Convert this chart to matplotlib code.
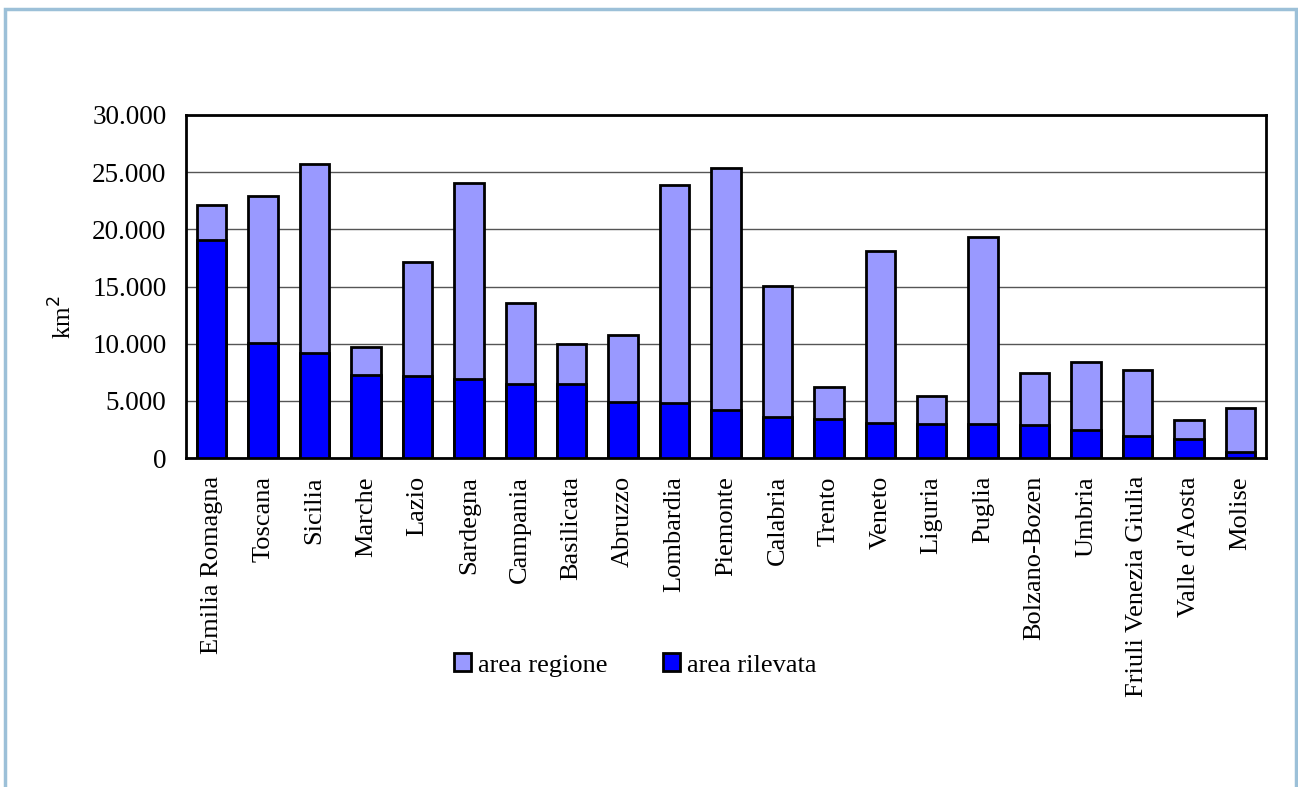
import numpy as np
import matplotlib.pyplot as plt
from matplotlib.patches import Rectangle, Patch
from matplotlib.ticker import FuncFormatter

# dati (km2)
regioni = ['Emilia Romagna', 'Toscana', 'Sicilia', 'Marche', 'Lazio', 'Sardegna',
           'Campania', 'Basilicata', 'Abruzzo', 'Lombardia', 'Piemonte', 'Calabria',
           'Trento', 'Veneto', 'Liguria', 'Puglia', 'Bolzano-Bozen', 'Umbria',
           'Friuli Venezia Giulia', "Valle d'Aosta", 'Molise']
area_regione = [22100, 22900, 25700, 9700, 17100, 24050, 13550, 9950, 10750, 23850,
                25400, 15050, 6200, 18100, 5400, 19300, 7400, 8400, 7700, 3300, 4400]
area_rilevata = [19050, 10100, 9150, 7250, 7150, 6950, 6450, 6450, 4900, 4800,
                 4200, 3600, 3400, 3050, 2970, 2950, 2900, 2450, 1950, 1650, 550]

plt.rcParams['font.family'] = ['Liberation Serif', 'DejaVu Serif']

fig = plt.figure(figsize=(12.98, 7.87), dpi=100)
ax = fig.add_axes([186/1298, 1-458/787, 1080/1298, 343/787])

x = np.arange(len(regioni))
w = 0.57
ax.bar(x, area_regione, w, color='#9999ff', edgecolor='black', linewidth=2, zorder=2)
ax.bar(x, area_rilevata, w, color='#0000ff', edgecolor='black', linewidth=2, zorder=3)

ax.set_xlim(-0.5, len(regioni)-0.5)
ax.set_ylim(0, 30000)
ax.set_yticks(np.arange(0, 30001, 5000))
ax.yaxis.set_major_formatter(FuncFormatter(lambda v, p: '{:,.0f}'.format(v).replace(',', '.')))
ax.yaxis.grid(True, color='#555555', linewidth=1, zorder=1)
ax.set_axisbelow(True)
ax.set_xticks(x)
ax.set_xticklabels(regioni, rotation=90, fontsize=19)
ax.tick_params(axis='y', labelsize=19.5, length=0, pad=14)
ax.tick_params(axis='x', length=0, pad=13)
for s in ax.spines.values():
    s.set_linewidth(2)
ax.set_ylabel('km$^2$', fontsize=18)
ax.yaxis.set_label_coords(-0.101, 0.41)

handles = [Patch(facecolor='#9999ff', edgecolor='black', linewidth=2),
           Patch(facecolor='#0000ff', edgecolor='black', linewidth=2)]
fig.legend(handles, ['area regione', 'area rilevata'], loc='center',
           bbox_to_anchor=(635/1298, 1-665/787), ncol=2, frameon=False,
           fontsize=19, handlelength=0.65, handleheight=0.65, handletextpad=0.27,
           columnspacing=2.1)

# cornice esterna
fig.patches.append(Rectangle((5/1298, -0.02), 1291/1298, 1-9/787+0.02,
                             transform=fig.transFigure, fill=False,
                             edgecolor='#9cc0d8', linewidth=2.5))

plt.savefig('out.png', dpi=100)
